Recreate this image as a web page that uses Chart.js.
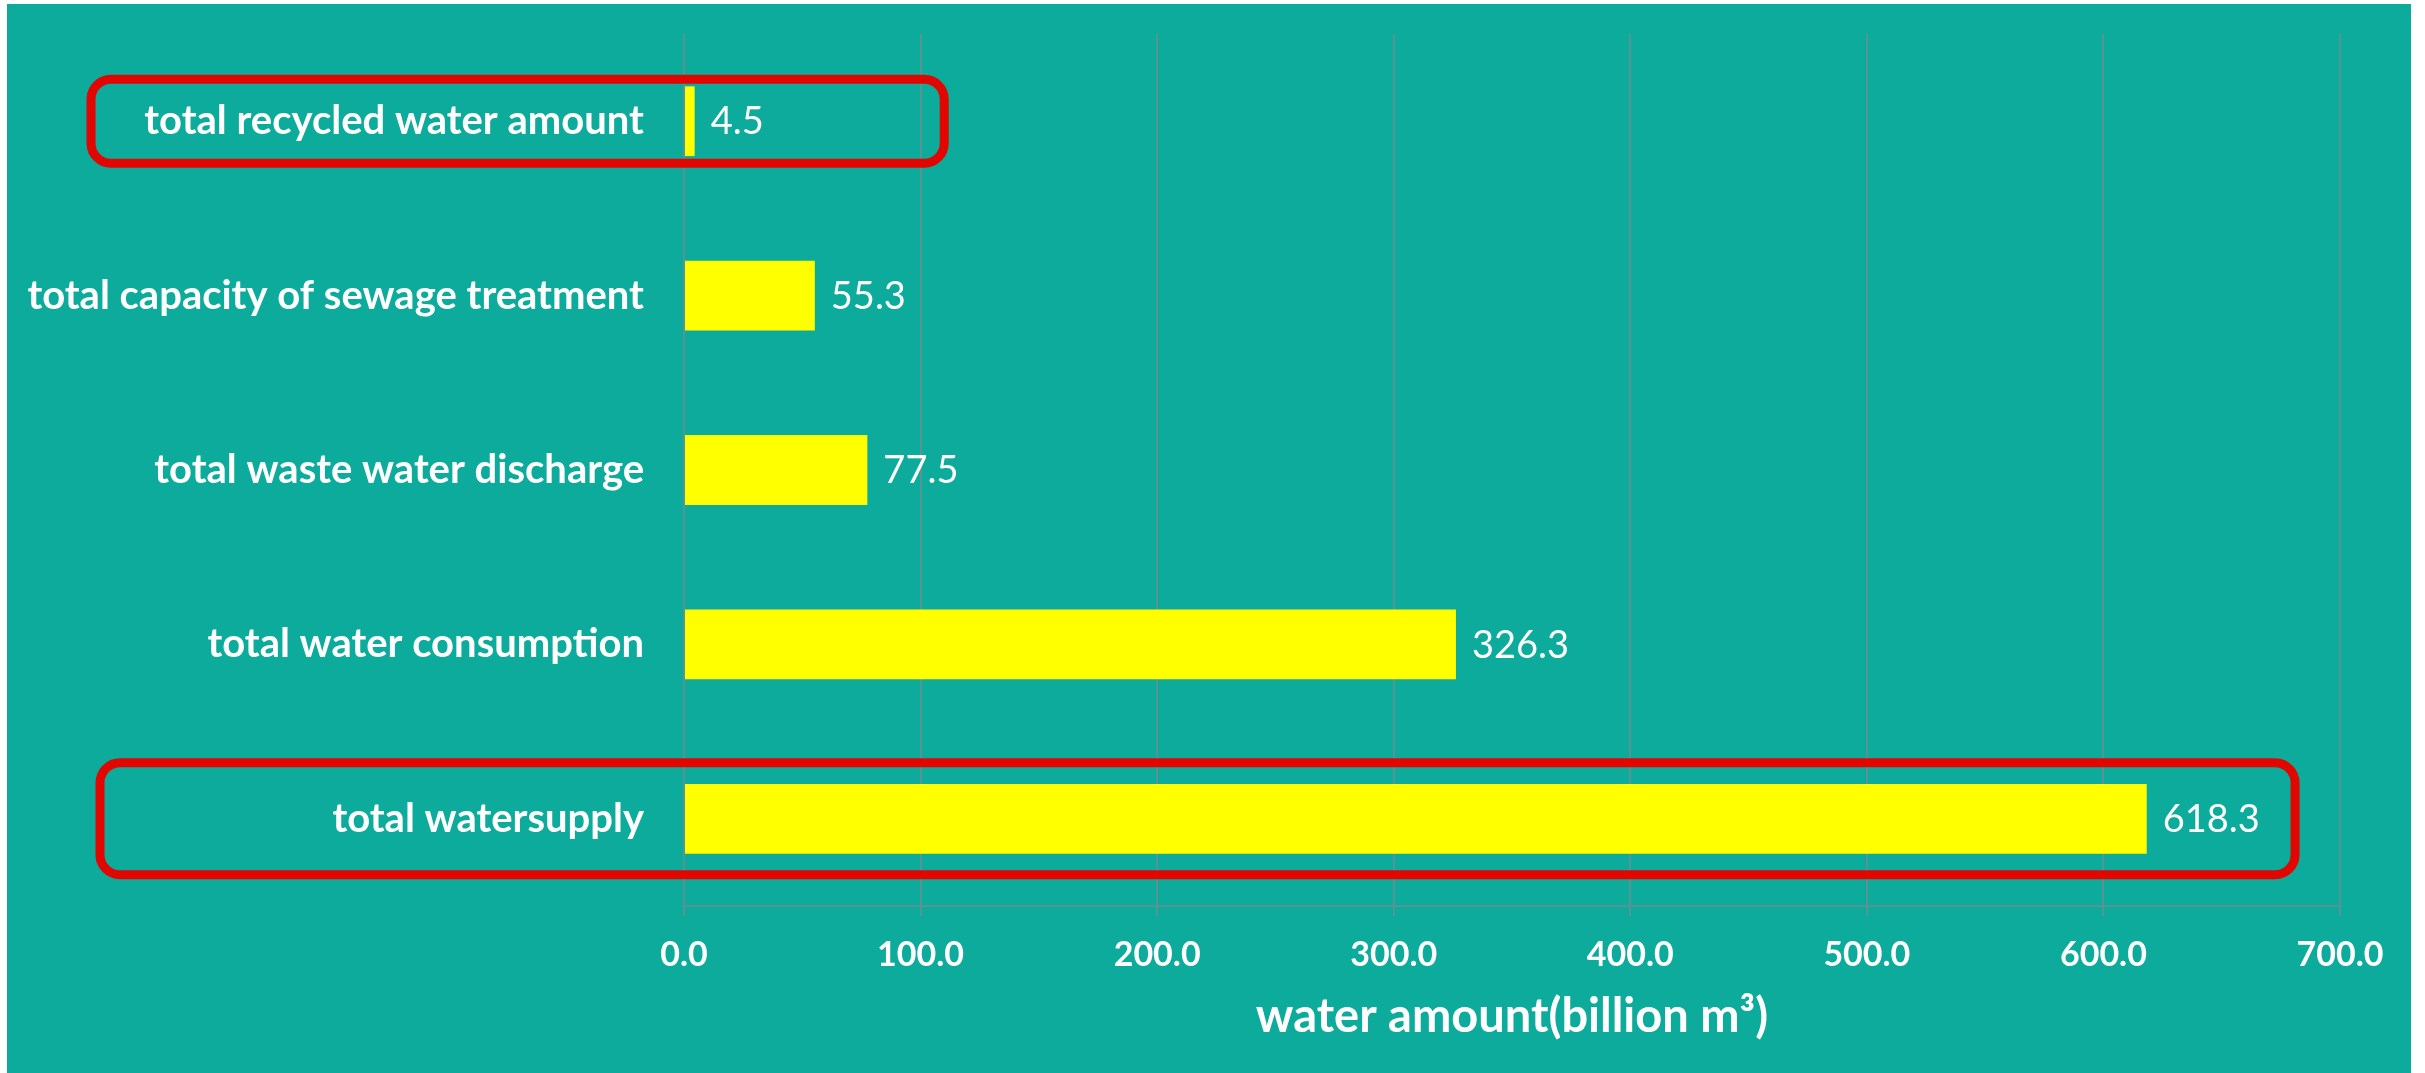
<!DOCTYPE html>
<html>
<head>
<meta charset="utf-8">
<script src="https://cdn.jsdelivr.net/npm/chart.js@4.4.1/dist/chart.umd.min.js"></script>
<style>
    html, body {
        margin: 0;
        padding: 0;
        background: #ffffff;
        width: 2425px;
        height: 1073px;
        overflow: hidden;
    }

    #fondo {
        position: absolute;
        left: 7px;
        top: 4px;
        right: 14px;
        bottom: 0;
        background: #0DAB9C;
    }

    #grafico {
        position: absolute;
        left: 0;
        top: 0;
    }
</style>
</head>
<body>

<div id="fondo"></div>
<canvas id="grafico" width="2425" height="1073"></canvas>

<script>

// datos del grafico
const categorias = [
    "total recycled water amount",
    "total capacity of sewage treatment",
    "total waste water discharge",
    "total water consumption",
    "total watersupply"
];

const valores = [4.5, 55.3, 77.5, 326.3, 618.3];

const ticksX = [0, 100, 200, 300, 400, 500, 600, 700];

const tituloX = "water amount(billion m³)";


const blanco = "#FFFFFF";
const fuente = "Lato";
const colorRejilla = "rgba(150, 130, 140, 0.55)";


/* =========================
   ETIQUETAS DE VALOR
========================= */

const etiquetasValor = {
    id: "etiquetasValor",
    afterDatasetsDraw(chart) {
        const ctx = chart.ctx;
        const meta = chart.getDatasetMeta(0);

        ctx.save();
        ctx.font = "38px " + fuente;
        ctx.fillStyle = blanco;
        ctx.textAlign = "left";
        ctx.textBaseline = "middle";

        meta.data.forEach((barra, i) => {
            ctx.fillText(valores[i].toFixed(1), barra.x + 16, barra.y + 1);
        });

        ctx.restore();
    }
};


/* =========================
   CAJAS ROJAS (resaltado)
========================= */

const cajasRojas = {
    id: "cajasRojas",
    afterDraw(chart, args, opts) {
        const ctx = chart.ctx;
        const x = chart.scales.x;
        const y = chart.scales.y;

        ctx.save();
        ctx.strokeStyle = opts.color;
        ctx.lineWidth = opts.lineWidth;

        opts.cajas.forEach(c => {
            const yc = y.getPixelForValue(c.indice);
            const x2 = x.getPixelForValue(c.hastaValor);
            ctx.beginPath();
            ctx.roundRect(c.izquierda, yc - c.mitad, x2 - c.izquierda, c.mitad * 2, opts.radio);
            ctx.stroke();
        });

        ctx.restore();
    }
};


document.addEventListener("DOMContentLoaded", () => {

    const ctxGrafico =
        document.getElementById("grafico").getContext("2d");

    new Chart(ctxGrafico, {
        type: "bar",
        data: {
            labels: categorias,
            datasets: [{
                data: valores,
                backgroundColor: "#FFFF00",
                borderWidth: 0,
                barPercentage: 0.4,
                categoryPercentage: 1
            }]
        },
        options: {
            indexAxis: "y",
            responsive: false,
            animation: false,
            layout: {
                padding: { top: 34, right: 85, left: 0, bottom: 0 }
            },
            plugins: {
                legend: { display: false },
                tooltip: { enabled: false },
                cajasRojas: {
                    color: "#E10600",
                    lineWidth: 9,
                    radio: 20,
                    cajas: [
                        { indice: 0, izquierda: 91, hastaValor: 110, mitad: 42 },
                        { indice: 4, izquierda: 100, hastaValor: 681, mitad: 56 }
                    ]
                }
            },
            scales: {
                x: {
                    min: ticksX[0],
                    max: ticksX[ticksX.length - 1],
                    afterBuildTicks: s => {
                        s.ticks = ticksX.map(v => ({ value: v }));
                    },
                    afterFit: s => {
                        s.height = 167;
                    },
                    grid: {
                        color: colorRejilla,
                        lineWidth: 2,
                        tickLength: 10
                    },
                    border: {
                        color: colorRejilla,
                        width: 2
                    },
                    ticks: {
                        color: blanco,
                        padding: 19,
                        maxRotation: 0,
                        font: { family: fuente, size: 34, weight: "bold" },
                        callback: v => Number(v).toFixed(1)
                    },
                    title: {
                        display: true,
                        text: tituloX,
                        color: blanco,
                        padding: { top: 0, bottom: 28 },
                        font: { family: fuente, size: 47, weight: "bold" }
                    }
                },
                y: {
                    afterFit: s => {
                        s.width = 684;
                    },
                    // la separacion de 40px va en tickLength para no empujar el area hacia abajo
                    grid: { display: false, drawTicks: true, tickLength: 40 },
                    border: { display: false },
                    ticks: {
                        color: blanco,
                        padding: 0,
                        font: { family: fuente, size: 40, weight: "bold" }
                    }
                }
            }
        },
        plugins: [etiquetasValor, cajasRojas]
    });

});

</script>
</body>
</html>
